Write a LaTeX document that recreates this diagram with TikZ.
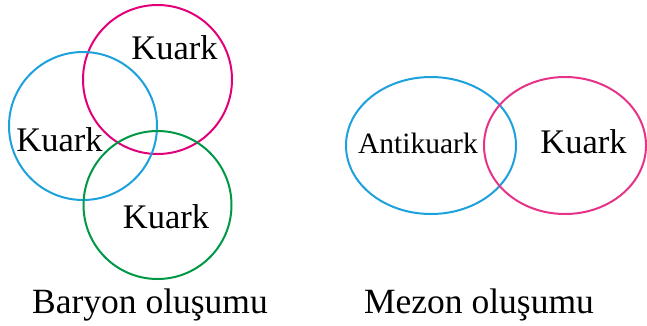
\documentclass[tikz,border=0pt]{standalone}
\usepackage{fontspec}
\setmainfont{Liberation Serif}
\definecolor{qmagenta}{RGB}{226,0,122}
\definecolor{qblue}{RGB}{29,161,220}
\definecolor{qgreen}{RGB}{0,152,70}
\definecolor{qpink}{RGB}{230,50,135}
\begin{document}
\begin{tikzpicture}[x=1pt,y=-1pt,
  ring/.style={line width=2pt},
  big/.style={font=\fontsize{34.5}{38}\selectfont, inner sep=0pt, anchor=base},
  small/.style={font=\fontsize{29.5}{32}\selectfont, inner sep=0pt, anchor=base},
  caption/.style={font=\fontsize{35.5}{40}\selectfont, inner sep=0pt, anchor=base}]
\useasboundingbox (0,0) rectangle (647,325);
% baryon: three overlapping quark circles
\draw[ring, qmagenta] (157.5,79.5) circle[radius=74.5];
\draw[ring, qblue] (83,126) circle[radius=74];
\draw[ring, qgreen] (157.5,205) circle[radius=74];
\node[big] (q1) at (174.5,59) {Kuark};
\node[big] (q2) at (59.5,151) {Kuark};
\node[big] (q3) at (166,228) {Kuark};
\node[caption] (cb) at (150,313) {Baryon oluşumu};
% meson: antiquark and quark ellipses
\draw[ring, qblue] (431,145.5) ellipse[x radius=85, y radius=68.5];
\draw[ring, qpink] (565,145.5) ellipse[x radius=81, y radius=68.5];
\node[small] (aq) at (418,153) {Antikuark};
\node[big] (q4) at (583.5,153) {Kuark};
\node[caption] (cm) at (479,313) {Mezon oluşumu};
\end{tikzpicture}
\end{document}
